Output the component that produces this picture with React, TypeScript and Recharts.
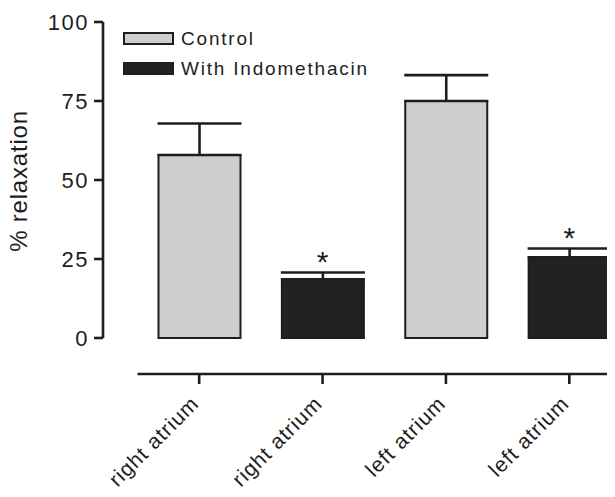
import React from "react";
import {
  Bar,
  BarChart,
  ErrorBar,
  Legend,
  ReferenceDot,
  XAxis,
  YAxis,
} from "recharts";

const categories = ["right atrium", "right atrium", "left atrium", "left atrium"];
const controlValues = [57.9, null, 75.0, null];
const controlErrors = [10.0, null, 8.2, null];
const indoValues = [null, 18.6, null, 25.5];
const indoErrors = [null, 2.1, null, 2.8];
const significant = [false, true, false, true];
const yTicks = [0, 25, 50, 75, 100];

const INK = "#1e1e1e";
const FONT = "'Liberation Sans', Arial, Helvetica, sans-serif";

const data = categories.map((c, i) => ({
  key: `c${i}`,
  control: controlValues[i],
  controlErr: controlErrors[i] == null ? null : [0, controlErrors[i]],
  indo: indoValues[i],
  indoErr: indoErrors[i] == null ? null : [0, indoErrors[i]],
}));

function XTick(props: any) {
  const { x, y, payload } = props;
  const ax = x + 1;
  return (
    <text
      x={ax}
      y={y}
      transform={`rotate(-45 ${ax} ${y})`}
      textAnchor="end"
      fontSize={21}
      letterSpacing={1}
      fill={INK}
    >
      {categories[payload.index]}
    </text>
  );
}

function YLabel(props: any) {
  const vb = props.viewBox;
  // baseline sits on the right when rotated
  const cx = vb.x + 19;
  const cy = vb.y + 159;
  return (
    <text
      x={cx}
      y={cy}
      transform={`rotate(-90 ${cx} ${cy})`}
      textAnchor="middle"
      fontSize={24}
      letterSpacing={0.8}
      fill={INK}
    >
      % relaxation
    </text>
  );
}

function LegendBox(props: any) {
  const { payload = [] } = props;
  return (
    <div style={{ fontFamily: FONT }}>
      {payload.map((p: any) => (
        <div
          key={p.value}
          style={{ display: "flex", alignItems: "center", height: 30 }}
        >
          <div
            style={{
              width: 51,
              height: 13,
              boxSizing: "border-box",
              background: p.color,
              border: `2px solid ${INK}`,
            }}
          />
          <span
            style={{
              marginLeft: 7,
              fontSize: 19,
              letterSpacing: 1.8,
              color: INK,
            }}
          >
            {p.value}
          </span>
        </div>
      ))}
    </div>
  );
}

export default function App() {
  return (
    // pull the svg over the body margin so the rotated label isn't clipped
    <div style={{ marginLeft: -8, width: 615, overflow: "hidden", fontFamily: FONT }}>
      <BarChart
        width={668}
        height={489}
        data={data}
        margin={{ top: 14, right: 37, left: 8, bottom: 0 }}
        barSize={82}
        barGap={-82}
      >
        <XAxis
          dataKey="key"
          interval={0}
          padding={{ left: 34.5, right: 0 }}
          height={123}
          tickSize={10}
          tickMargin={21}
          axisLine={{ stroke: INK, strokeWidth: 2.6, strokeDasharray: "0 34.5 2000" }}
          tickLine={{ stroke: INK, strokeWidth: 2.6 }}
          tick={<XTick />}
        />
        <YAxis
          width={95}
          domain={[-11.4, 100]}
          ticks={yTicks}
          interval={0}
          tickSize={9}
          tickMargin={5}
          axisLine={{ stroke: INK, strokeWidth: 2.6, strokeDasharray: "316 1000" }}
          tickLine={{ stroke: INK, strokeWidth: 2.6 }}
          tick={{ fontSize: 22, fill: INK, letterSpacing: 1.5 }}
          label={<YLabel />}
        />
        <Legend
          layout="vertical"
          align="center"
          verticalAlign="middle"
          wrapperStyle={{ top: 15.5, left: 123, width: 320 }}
          content={<LegendBox />}
        />
        <Bar
          name="Control"
          dataKey="control"
          fill="#cdced0"
          stroke={INK}
          strokeWidth={2}
          isAnimationActive={false}
        >
          <ErrorBar dataKey="controlErr" width={42} stroke={INK} strokeWidth={2.6} />
        </Bar>
        <Bar
          name="With Indomethacin"
          dataKey="indo"
          fill="#222222"
          stroke={INK}
          strokeWidth={2}
          isAnimationActive={false}
        >
          <ErrorBar dataKey="indoErr" width={42} stroke={INK} strokeWidth={2.6} />
        </Bar>
        {data.map((d, i) =>
          significant[i] ? (
            <ReferenceDot
              key={d.key}
              x={d.key}
              y={(indoValues[i] ?? 0) + (indoErrors[i] ?? 0)}
              r={0}
              fill="none"
              stroke="none"
              label={{ value: "*", position: "top", offset: 1, fontSize: 30, fill: INK }}
            />
          ) : null
        )}
      </BarChart>
    </div>
  );
}
